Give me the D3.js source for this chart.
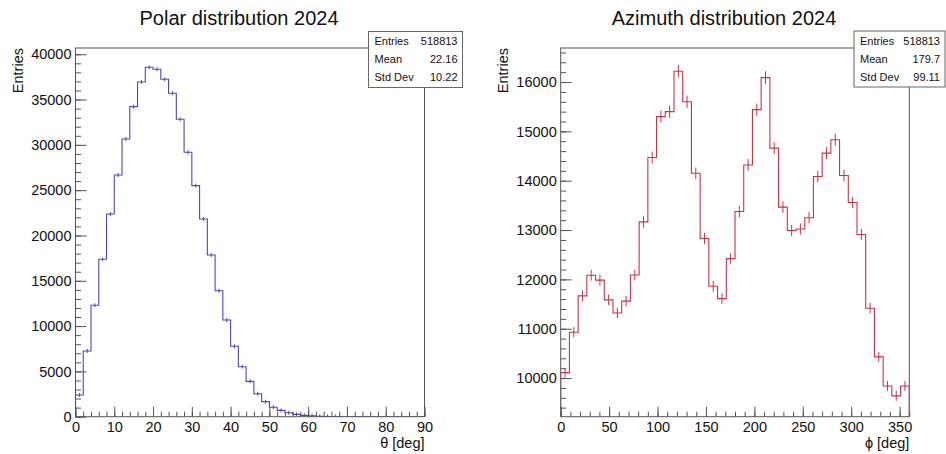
<!DOCTYPE html>
<html>
<head>
<meta charset="utf-8">
<script src="https://cdn.jsdelivr.net/npm/d3@7"></script>
<style>
	body { margin:0; background:#FFFFFF; }
	svg text { font-family: "Liberation Sans", Arial, sans-serif; fill:#111; }
</style>
</head>
<body>
<div id="vis_container"></div>
<script>

// polar angle histogram, 2 deg bins from 0 to 90
var polarBins = d3.range(0, 92, 2);
var polarCounts = [2400, 7250, 12300, 17370, 22370, 26680, 30650, 34220, 36940, 38560,
	38340, 37240, 35700, 32830, 29180, 25500, 21820, 17850, 13900, 10670,
	7770, 5520, 3900, 2540, 1660, 1040, 700, 440, 260, 150,
	90, 50, 20, 10, 0, 0, 0, 0, 0, 0,
	0, 0, 0, 0, 0];
var polarXTicks = [0, 10, 20, 30, 40, 50, 60, 70, 80, 90];
var polarYTicks = [0, 5000, 10000, 15000, 20000, 25000, 30000, 35000, 40000];
var polarStats = [["Entries", "518813"], ["Mean", "22.16"], ["Std Dev", "10.22"]];

// azimuth histogram, 9 deg bins from 0 to 360
var azimuthBins = d3.range(0, 369, 9);
var azimuthCounts = [10110, 10930, 11665, 12085, 11985, 11585, 11320, 11560, 12090, 13165,
	14470, 15300, 15400, 16220, 15600, 14150, 12830, 11860, 11610, 12420,
	13375, 14320, 15440, 16090, 14660, 13465, 12990, 13020, 13250, 14085,
	14560, 14830, 14105, 13560, 12910, 11415, 10430, 9840, 9640, 9840];
var azimuthXTicks = [0, 50, 100, 150, 200, 250, 300, 350];
var azimuthYTicks = [10000, 11000, 12000, 13000, 14000, 15000, 16000];
var azimuthStats = [["Entries", "518813"], ["Mean", "179.7"], ["Std Dev", "99.11"]];

var svg = d3.select("#vis_container").append("svg")
	.attr("width", 946)
	.attr("height", 454)
	.style("background-color", "#FFFFFF");

function drawHist(h) {
	var g = svg.append("g");

	var x = d3.scaleLinear().domain(h.xDomain).range([h.left, h.right]);
	var y = d3.scaleLinear().domain(h.yDomain).range([h.bottom, h.top]);

	// title
	g.append("text")
		.attr("x", h.titleX)
		.attr("y", 25)
		.attr("text-anchor", "middle")
		.style("font-size", "20px")
		.text(h.title);

	// clip to the frame
	g.append("clipPath").attr("id", h.id + "_clip")
		.append("rect")
		.attr("x", h.left).attr("y", h.top)
		.attr("width", h.right - h.left).attr("height", h.bottom - h.top);

	var plot = g.append("g").attr("clip-path", "url(#" + h.id + "_clip)");

	// step outline
	var pts = [[h.bins[0], h.yDomain[0]]];
	h.counts.forEach(function(c, i) {
		pts.push([h.bins[i], c]);
		pts.push([h.bins[i + 1], c]);
	});
	pts.push([h.bins[h.bins.length - 1], h.yDomain[0]]);

	plot.append("path")
		.attr("d", d3.line().x(function(d) { return x(d[0]); }).y(function(d) { return y(d[1]); })(pts))
		.attr("fill", "none")
		.attr("stroke", h.color)
		.attr("stroke-width", 1.1);

	// error bars
	plot.selectAll(".err")
		.data(h.counts.filter(function(c) { return c > 0; }).map(function(c, i) { return {c:c, i:i}; }))
		.enter().append("line")
		.attr("x1", function(d) { return x((h.bins[d.i] + h.bins[d.i + 1]) / 2); })
		.attr("x2", function(d) { return x((h.bins[d.i] + h.bins[d.i + 1]) / 2); })
		.attr("y1", function(d) { return Math.max(y(d.c - Math.sqrt(d.c)), y(d.c) + 2); })
		.attr("y2", function(d) { return Math.min(y(d.c + Math.sqrt(d.c)), y(d.c) - 2); })
		.attr("stroke", h.color)
		.attr("stroke-width", 1);

	// axes, ROOT style ticks pointing inside
	var xAxis = g.append("g")
		.attr("transform", "translate(0," + h.bottom + ")")
		.call(d3.axisBottom(x).tickValues(h.xTicks).tickSize(-10).tickPadding(5));
	var xMinor = g.append("g")
		.attr("transform", "translate(0," + h.bottom + ")")
		.call(d3.axisBottom(x).tickValues(h.xMinor).tickSize(-5).tickFormat(""));
	var yAxis = g.append("g")
		.attr("transform", "translate(" + h.left + ",0)")
		.call(d3.axisLeft(y).tickValues(h.yTicks).tickSize(-11).tickPadding(4).tickFormat(d3.format("d")));
	var yMinor = g.append("g")
		.attr("transform", "translate(" + h.left + ",0)")
		.call(d3.axisLeft(y).tickValues(h.yMinor).tickSize(-5.5).tickFormat(""));

	[xAxis, xMinor, yAxis, yMinor].forEach(function(a) {
		a.select(".domain").remove();
		a.selectAll("line").attr("stroke", "#555");
		a.selectAll("text").style("font-size", "14.5px").attr("fill", "#111")
			.style("font-family", '"Liberation Sans", Arial, sans-serif');
	});

	// frame
	g.append("rect")
		.attr("x", h.left).attr("y", h.top)
		.attr("width", h.right - h.left).attr("height", h.bottom - h.top)
		.attr("fill", "none")
		.attr("stroke", "#555")
		.attr("stroke-width", 1);

	// axis titles
	g.append("text")
		.attr("x", h.right)
		.attr("y", 448)
		.attr("text-anchor", "end")
		.style("font-size", "14.5px")
		.text(h.xTitle);

	g.append("text")
		.attr("transform", "translate(" + h.yTitleX + "," + h.top + ") rotate(-90)")
		.attr("text-anchor", "end")
		.style("font-size", "14.5px")
		.text("Entries");

	// stats box
	g.append("rect")
		.attr("x", h.stats.x).attr("y", h.stats.y)
		.attr("width", h.stats.w).attr("height", h.stats.h)
		.attr("fill", "#FFFFFF")
		.attr("stroke", "#666")
		.attr("stroke-width", 1);

	h.statRows.forEach(function(r, i) {
		g.append("text")
			.attr("x", h.stats.x + 6)
			.attr("y", h.stats.y + 13.5 + i * 18)
			.style("font-size", "11px")
			.text(r[0]);
		g.append("text")
			.attr("x", h.stats.x + h.stats.w - 5)
			.attr("y", h.stats.y + 13.5 + i * 18)
			.attr("text-anchor", "end")
			.style("font-size", "11px")
			.text(r[1]);
	});
}

drawHist({
	id: "polar",
	title: "Polar distribution 2024",
	titleX: 239,
	xTitle: "\u03b8 [deg]",
	yTitleX: 23,
	left: 75.5, right: 424.5, top: 48, bottom: 416.7,
	xDomain: [0, 90], yDomain: [0, 40690],
	bins: polarBins, counts: polarCounts,
	xTicks: polarXTicks, xMinor: d3.range(0, 91, 2),
	yTicks: polarYTicks, yMinor: d3.range(0, 40001, 1000),
	color: "#4f45b8",
	stats: {x: 368.5, y: 31.5, w: 94, h: 56},
	statRows: polarStats
});

drawHist({
	id: "azimuth",
	title: "Azimuth distribution 2024",
	titleX: 724,
	xTitle: "\u03d5 [deg]",
	yTitleX: 508,
	left: 560.7, right: 909.3, top: 48, bottom: 416.7,
	xDomain: [0, 360], yDomain: [9217, 16690],
	bins: azimuthBins, counts: azimuthCounts,
	xTicks: azimuthXTicks, xMinor: d3.range(0, 361, 10),
	yTicks: azimuthYTicks, yMinor: d3.range(9400, 16601, 200),
	color: "#cc3340",
	stats: {x: 854, y: 31, w: 91, h: 56},
	statRows: azimuthStats
});

</script>
</body>
</html>
